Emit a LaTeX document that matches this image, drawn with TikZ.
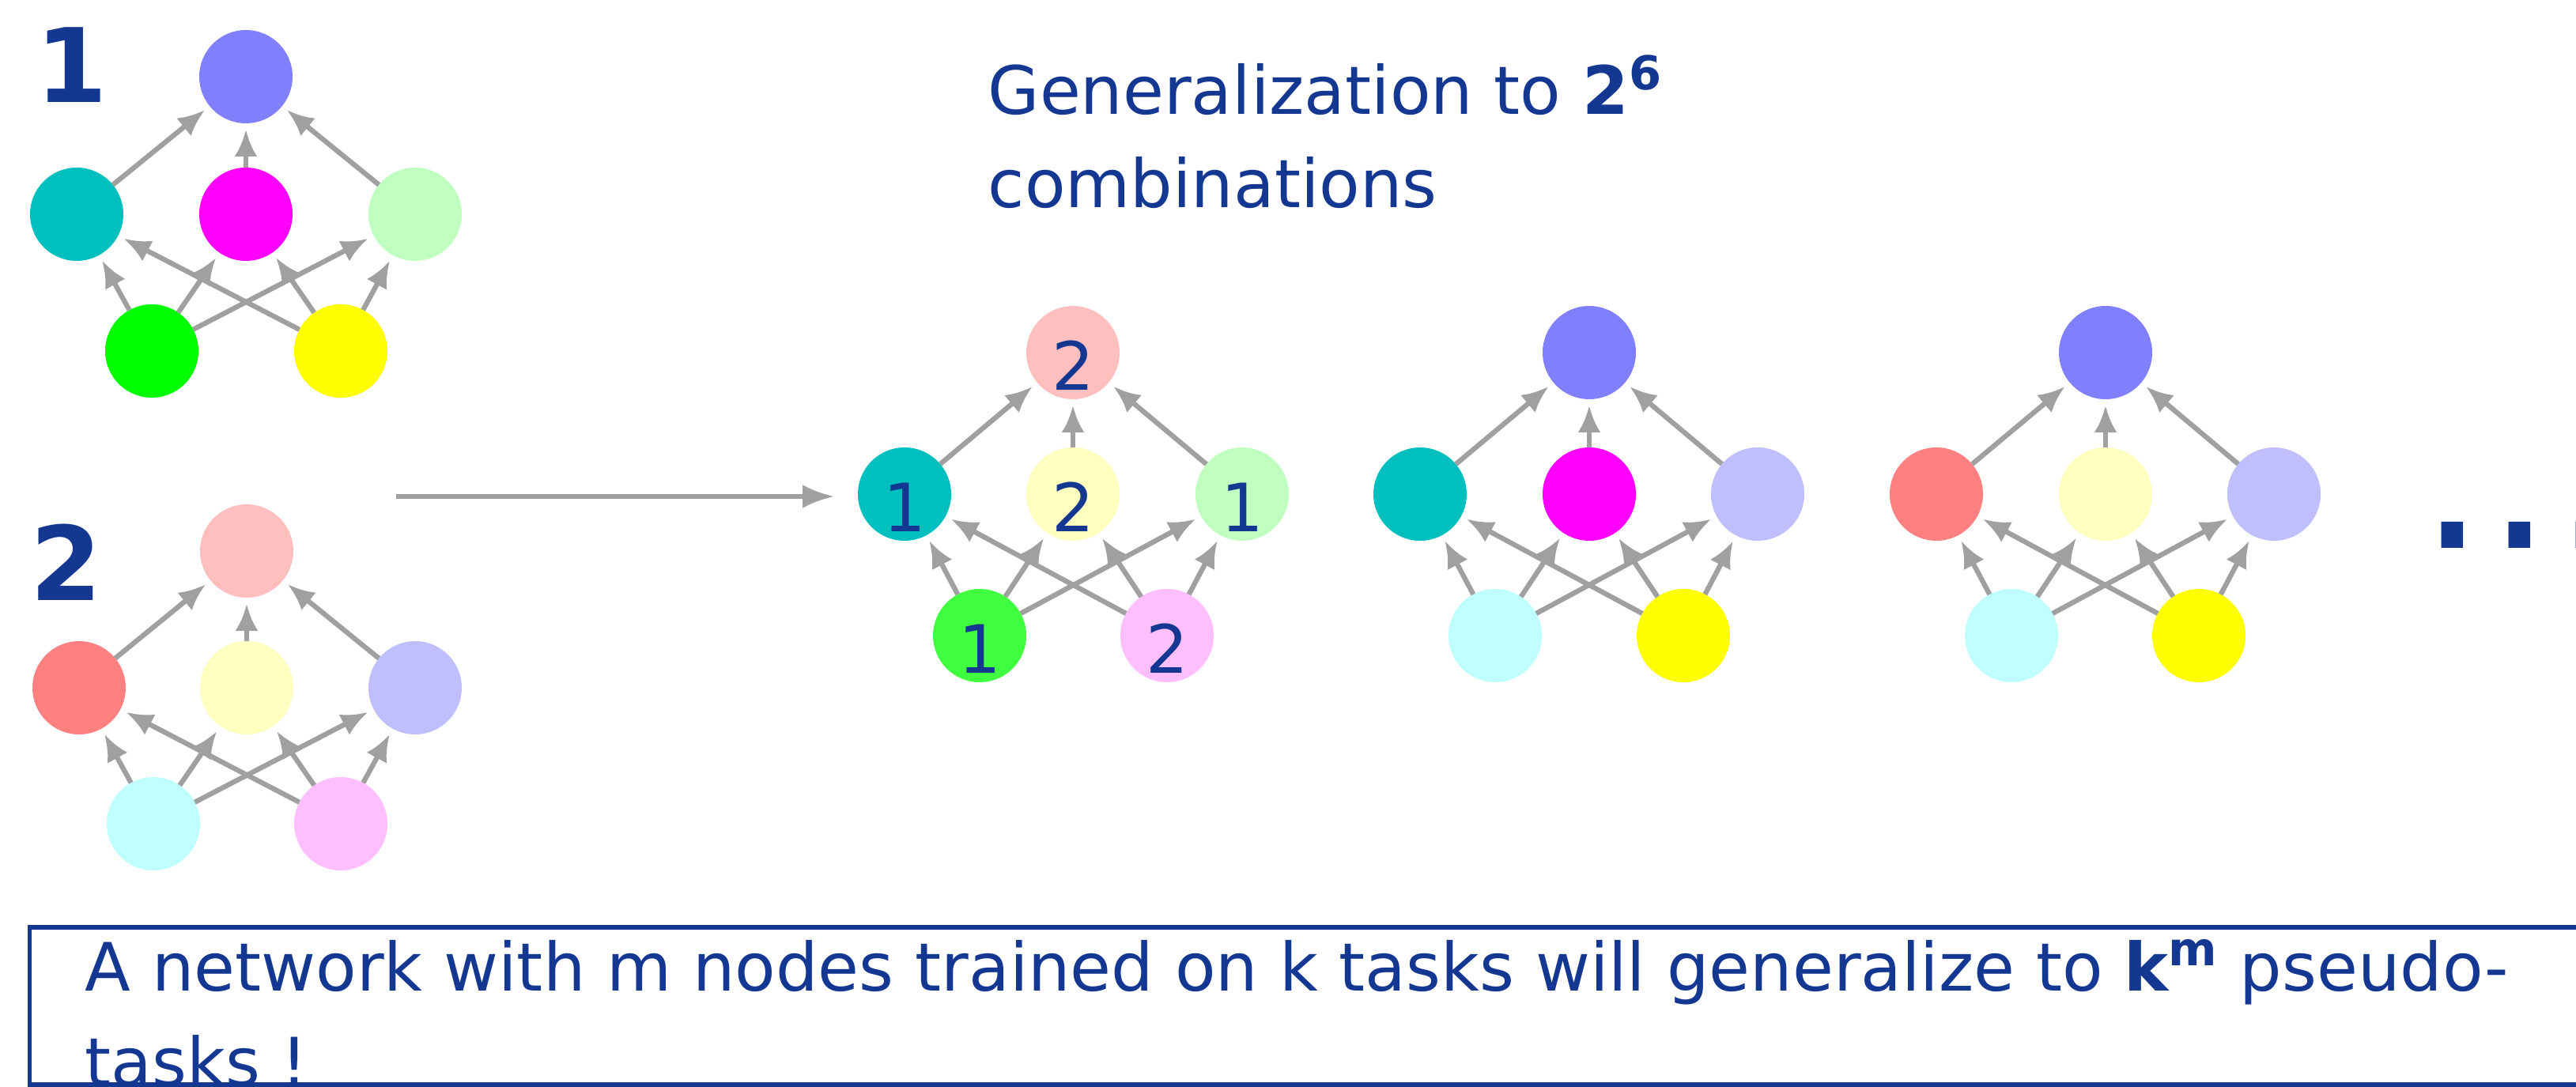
\documentclass[tikz,border=0pt]{standalone}
\usepackage{fontspec}
\setmainfont{DejaVu Sans}
\usepackage{tikz}
\definecolor{navy}{RGB}{20,55,145}
\definecolor{edgegray}{RGB}{160,160,160}
\definecolor{cblue}{RGB}{128,128,255}
\definecolor{cteal}{RGB}{0,191,191}
\definecolor{cmagenta}{RGB}{255,0,255}
\definecolor{cmint}{RGB}{191,255,191}
\definecolor{cgreen}{RGB}{0,255,0}
\definecolor{cgreenb}{RGB}{64,255,64}
\definecolor{cyellow}{RGB}{255,255,0}
\definecolor{cpink}{RGB}{255,191,191}
\definecolor{csalmon}{RGB}{255,128,128}
\definecolor{ccream}{RGB}{255,255,191}
\definecolor{clavender}{RGB}{191,191,255}
\definecolor{cice}{RGB}{191,255,255}
\definecolor{corchid}{RGB}{255,191,255}
\usetikzlibrary{arrows.meta}
\tikzstyle{unit} = [circle, minimum size=1.18cm, inner sep=0pt, outer sep=0pt, text=navy, font=\fontsize{24}{24}\selectfont, text height=0.96cm, text depth=0pt]
\tikzstyle{link} = [draw=edgegray, line width=1.8pt, -{Latex[length=3.4mm,width=2.9mm]}, shorten >=0.8mm]
\tikzstyle{feed} = [draw=edgegray, line width=1.7pt, -{Latex[length=4mm,width=3mm]}, shorten >=3mm]
\tikzstyle{tasknum} = [inner sep=0pt, text=navy, font=\fontsize{37}{37}\selectfont\bfseries]

\begin{document}
\begin{tikzpicture}[x=1cm, y=1cm, font=\fontsize{24}{34}\selectfont]
	\clip (0,0) rectangle (32.58,-13.75);
	% task 1 network
	\node[tasknum] (task1) at (0.91,-0.82) {1};
	\node[unit, fill=cblue] (one-t) at (3.11,-0.97) {};
	\node[unit, fill=cteal] (one-l) at (0.97,-2.71) {};
	\node[unit, fill=cmagenta] (one-c) at (3.11,-2.71) {};
	\node[unit, fill=cmint] (one-r) at (5.25,-2.71) {};
	\node[unit, fill=cgreen] (one-bl) at (1.92,-4.44) {};
	\node[unit, fill=cyellow] (one-br) at (4.31,-4.44) {};
	% task 2 network
	\node[tasknum] (task2) at (0.84,-7.11) {2};
	\node[unit, fill=cpink] (two-t) at (3.12,-6.97) {};
	\node[unit, fill=csalmon] (two-l) at (1.00,-8.70) {};
	\node[unit, fill=ccream] (two-c) at (3.12,-8.70) {};
	\node[unit, fill=clavender] (two-r) at (5.25,-8.70) {};
	\node[unit, fill=cice] (two-bl) at (1.94,-10.42) {};
	\node[unit, fill=corchid] (two-br) at (4.31,-10.42) {};
	% mixed networks
	\node[unit, fill=cpink] (mixa-t) at (13.57,-4.46) {2};
	\node[unit, fill=cteal] (mixa-l) at (11.44,-6.25) {1};
	\node[unit, fill=ccream] (mixa-c) at (13.57,-6.25) {2};
	\node[unit, fill=cmint] (mixa-r) at (15.71,-6.25) {1};
	\node[unit, fill=cgreenb] (mixa-bl) at (12.39,-8.04) {1};
	\node[unit, fill=corchid] (mixa-br) at (14.76,-8.04) {2};

	\node[unit, fill=cblue] (mixb-t) at (20.10,-4.46) {};
	\node[unit, fill=cteal] (mixb-l) at (17.96,-6.25) {};
	\node[unit, fill=cmagenta] (mixb-c) at (20.10,-6.25) {};
	\node[unit, fill=clavender] (mixb-r) at (22.23,-6.25) {};
	\node[unit, fill=cice] (mixb-bl) at (18.91,-8.04) {};
	\node[unit, fill=cyellow] (mixb-br) at (21.29,-8.04) {};

	\node[unit, fill=cblue] (mixc-t) at (26.63,-4.46) {};
	\node[unit, fill=csalmon] (mixc-l) at (24.49,-6.25) {};
	\node[unit, fill=ccream] (mixc-c) at (26.63,-6.25) {};
	\node[unit, fill=clavender] (mixc-r) at (28.76,-6.25) {};
	\node[unit, fill=cice] (mixc-bl) at (25.44,-8.04) {};
	\node[unit, fill=cyellow] (mixc-br) at (27.81,-8.04) {};
	% connections
	\foreach \n in {one,two,mixa,mixb,mixc}{
		\foreach \m in {l,c,r}
			\draw[link] (\n-\m) -- (\n-t);
		\foreach \b in {bl,br}
			\foreach \m in {l,c,r}
				\draw[link] (\n-\b) -- (\n-\m);
	}
	\coordinate (src) at (5.01,-6.28);
	\draw[feed] (src) -- (src -| mixa-l.west);
	% texts
	\node[anchor=base west, inner sep=0pt, align=left, text=navy, font=\fontsize{24}{33.6}\selectfont] (title) at (12.49,-2.63) {Generalization to \textbf{2\textsuperscript{6}}\\combinations};
	\node[anchor=base west, inner sep=0pt, text=navy, font=\fontsize{76}{76}\selectfont] (more) at (30.585,-6.94) {...};
	\draw[navy, line width=0.055cm] (0.375,-11.73) rectangle (33.5,-13.72);
	\node[anchor=base west, inner sep=0pt, align=left, text=navy, font=\fontsize{24}{34}\selectfont] (claim) at (1.07,-13.73) {A network with m nodes trained on k tasks will generalize to \textbf{k\textsuperscript{m}} pseudo-\\tasks !};
\end{tikzpicture}
\end{document}
